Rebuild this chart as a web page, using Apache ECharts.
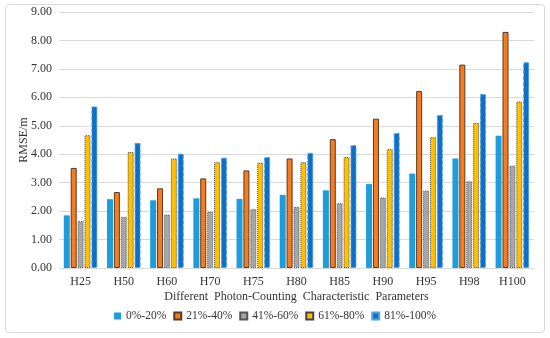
<!DOCTYPE html>
<html><head><meta charset="utf-8">
<script src="https://cdn.jsdelivr.net/npm/echarts@6/dist/echarts.min.js"></script>
<style>html,body{margin:0;padding:0;background:#fff}#c{width:550px;height:338px}</style>
</head><body><div id="c"></div>
<script>
var categories = ['H25','H50','H60','H70','H75','H80','H85','H90','H95','H98','H100'];
var s0_20   = [1.85, 2.42, 2.38, 2.45, 2.43, 2.57, 2.73, 2.95, 3.32, 3.85, 4.65];
var s21_40  = [3.52, 2.67, 2.80, 3.15, 3.43, 3.85, 4.53, 5.25, 6.22, 7.15, 8.30];
var s41_60  = [1.65, 1.80, 1.88, 1.98, 2.07, 2.15, 2.28, 2.48, 2.72, 3.05, 3.60];
var s61_80  = [4.67, 4.08, 3.85, 3.72, 3.70, 3.72, 3.90, 4.18, 4.60, 5.10, 5.85];
var s81_100 = [5.68, 4.40, 4.02, 3.88, 3.90, 4.05, 4.32, 4.75, 5.38, 6.12, 7.23];
var seriesNames = ['0%-20%','21%-40%','41%-60%','61%-80%','81%-100%'];
var yTicks = ['0.00','1.00','2.00','3.00','4.00','5.00','6.00','7.00','8.00','9.00'];

var font = 'Liberation Serif';
var txt = '#333333';
var styles = [
  {color:'#1f9ddb', borderColor:'#1f9ddb', borderWidth:0},
  {color:'#f57c21', borderColor:'#5a3a20', borderWidth:1},
  {color:'#a6a6a6', borderColor:'#555555', borderWidth:1, borderType:'dotted'},
  {color:'#ffc000', borderColor:'#444444', borderWidth:1, borderType:'dotted'},
  {color:'#0f6fc6', borderColor:'#4fa3e6', borderWidth:1, borderType:'dashed'}
];
var data = [s0_20, s21_40, s41_60, s61_80, s81_100];
var series = data.map(function(d,i){
  return {name:seriesNames[i], type:'bar', data:d, barWidth:6, barGap:'15%', itemStyle:styles[i]};
});
var chart = echarts.init(document.getElementById('c'));
chart.setOption({
  animation:false,
  textStyle:{fontFamily:font},
  graphic:[{type:'rect', shape:{x:5.5,y:4.5,width:539,height:328,r:3}, style:{fill:'none', stroke:'#d9d9d9', lineWidth:1}, z:-1}],
  grid:{left:59, right:16, top:12, bottom:70},
  legend:{bottom:11, left:'center', itemWidth:7, itemHeight:7, itemGap:7,
    textStyle:{fontFamily:font, fontSize:11.5, color:txt},
    data:seriesNames.map(function(n){return {name:n, icon:'rect'};})},
  xAxis:{type:'category', data:categories,
    name:'Different  Photon-Counting  Characteristic  Parameters', nameLocation:'middle', nameGap:23,
    nameMoveOverlap:false,
    nameTextStyle:{fontFamily:font, fontSize:12, color:txt},
    axisLine:{lineStyle:{color:'#d9d9d9'}}, axisTick:{show:false},
    axisLabel:{fontFamily:font, fontSize:12, color:txt, margin:8}},
  yAxis:{type:'value', min:0, max:9, interval:1,
    name:'RMSE/m', nameLocation:'middle', nameGap:29, nameRotate:90,
    nameMoveOverlap:false,
    nameTextStyle:{fontFamily:font, fontSize:12, color:txt},
    axisLine:{show:false}, axisTick:{show:false},
    axisLabel:{fontFamily:font, fontSize:12, color:txt, margin:7, formatter:function(v){return yTicks[Math.round(v)];}},
    splitLine:{lineStyle:{color:'#d9d9d9'}}},
  series:series
});
</script></body></html>
